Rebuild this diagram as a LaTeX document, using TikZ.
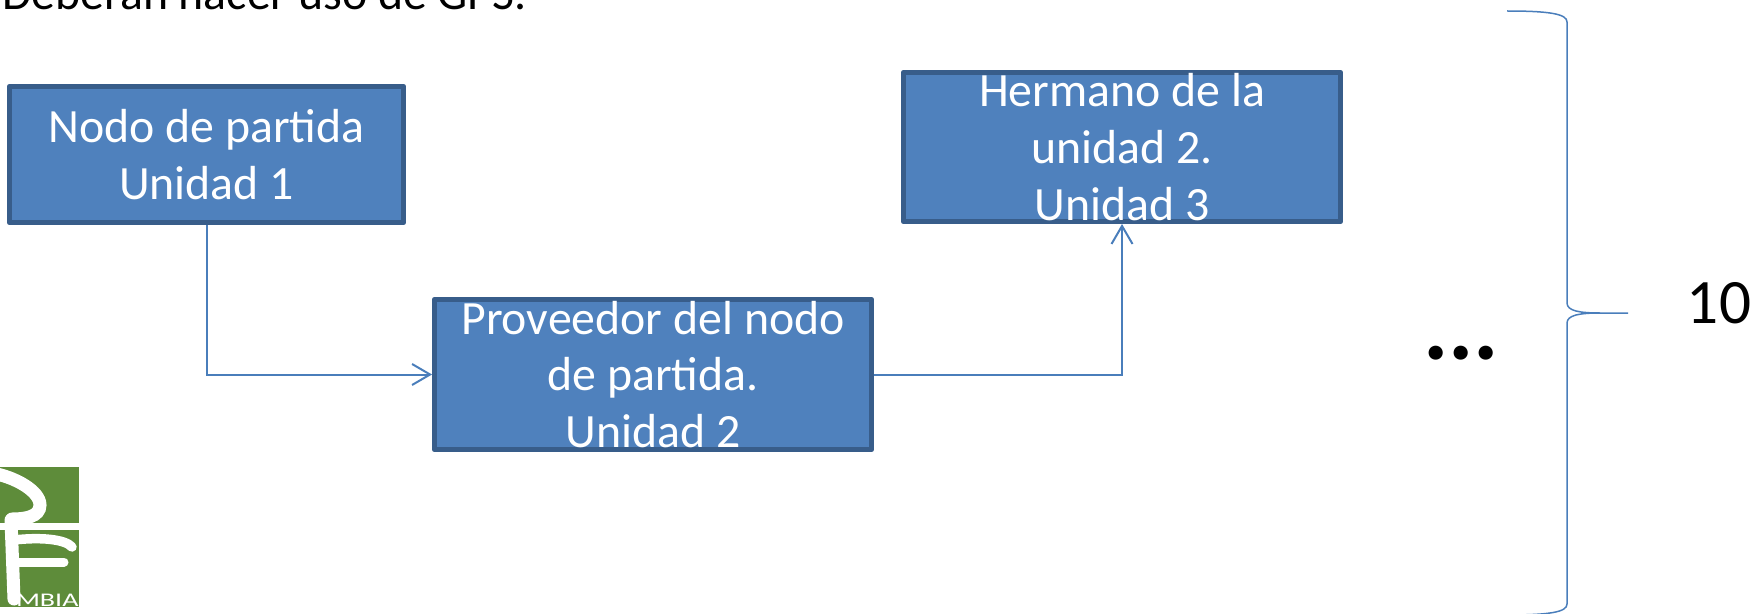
\documentclass[tikz,border=0pt]{standalone}
\usepackage{fontspec}
\setmainfont{Carlito}
\usetikzlibrary{arrows.meta}

\definecolor{boxfill}{HTML}{4F81BD}
\definecolor{boxline}{HTML}{385D8A}
\definecolor{linkblue}{HTML}{4A7EBB}
\definecolor{logogreen}{HTML}{5E8C3A}

\begin{document}
\begin{tikzpicture}[x=0.02cm, y=0.02cm,
    unit/.style={draw=boxline, fill=boxfill, line width=0.09cm, line join=round,
      text=white, align=center, inner sep=0pt,
      font=\fontsize{27.2}{32.3}\selectfont},
    link/.style={draw=linkblue, line width=0.04cm},
    brace/.style={draw=linkblue, line width=0.03cm},
    >={Straight Barb[length=0.36cm, width=0.42cm, line width=0.04cm]}]
    \useasboundingbox (0, 0) rectangle (1763, 613);
    \clip (0, 0) rectangle (1763, 613);
    % title
    \node [anchor=base west, inner sep=0pt, font=\fontsize{27.2}{32.3}\selectfont]
      (title) at (2, 603) {Deberán hacer uso de GPS.};
    % U1
    \node [unit, minimum width=7.89cm, minimum height=2.73cm] (u1) at (206.5, 458.5)
      {Nodo de partida\\Unidad 1};
    % U2
    \node [unit, minimum width=8.75cm, minimum height=3.01cm] (u2) at (653, 238.5)
      {Proveedor del nodo\\de partida.\\Unidad 2};
    % U3
    \node [unit, minimum width=8.75cm, minimum height=2.99cm] (u3) at (1122, 466)
      {Hermano de la\\unidad 2.\\Unidad 3};
    \draw [link, ->] (u1.south) |- (u2.west);
    \draw [link, ->] (u2.east) -| (u3.south);
    % ...
    \node [anchor=base, inner sep=0pt, font=\fontsize{54}{60}\bfseries] (dots) at (1461, 254) {...};
    % brace
    \draw [brace] (1507, 602) .. controls (1550, 602) and (1567, 599) .. (1567, 591)
      -- (1567, 310) .. controls (1567, 302) and (1580, 300) .. (1600, 300) -- (1628, 300);
    \draw [brace] (1600, 300) .. controls (1580, 300) and (1567, 298) .. (1567, 290)
      -- (1567, 9) .. controls (1567, 1) and (1550, -2) .. (1507, -2);
    \node [anchor=base, inner sep=0pt, font=\fontsize{36}{43}\selectfont] (count) at (1719, 290) {10};
    % logo
    \fill [logogreen] (-20, 146) rectangle (79, 90);
    \fill [logogreen] (-20, 83) rectangle (79, 6);
    \draw [white, line width=0.26cm, line cap=round]
      (-8, 140) .. controls (15, 136) and (40, 122) .. (40, 108)
      .. controls (40, 96) and (25, 94) .. (12, 94);
    \draw [white, line width=0.26cm, line cap=round] (11, 93) -- (14, 14);
    \draw [white, line width=0.19cm, line cap=round] (14, 73) .. controls (40, 76) and (65, 74) .. (72, 66);
    \draw [white, line width=0.18cm, line cap=round] (16, 51) -- (64, 51);
    \node [anchor=base east, inner sep=0pt, text=white, xscale=1.45, transform shape,
      font=\fontsize{11}{12}\selectfont] (brand) at (79, 7) {MBIA};
  \end{tikzpicture}
\end{document}
